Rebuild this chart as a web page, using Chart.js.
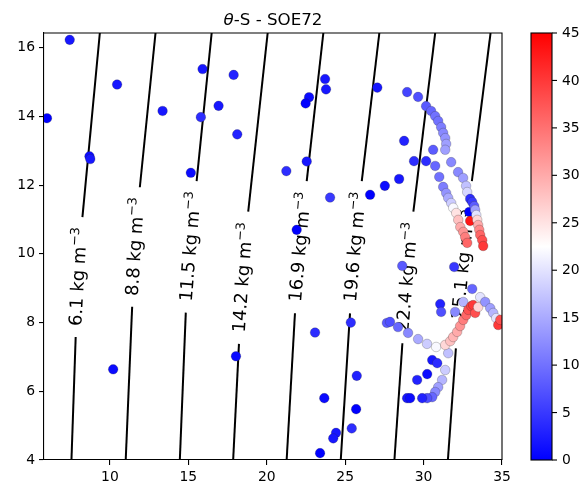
<!DOCTYPE html>
<html>
<head>
<meta charset="utf-8">
<script src="https://cdn.jsdelivr.net/npm/chart.js@4.4.1/dist/chart.umd.min.js"></script>
<style>
  html, body { margin: 0; padding: 0; background: #fff; }
  canvas { display: block; }
</style>
</head>
<body>
<canvas id="ts" width="585" height="488"></canvas>
<script>
const FONT = '"DejaVu Sans", "Liberation Sans", sans-serif';

// axis ranges and ticks
const xMin = 5.8, xMax = 35;
const yMin = 4, yMax = 16.43;
const xTicks = [10, 15, 20, 25, 30, 35];
const yTicks = [4, 6, 8, 10, 12, 14, 16];
const cMin = 0, cMax = 45;
const cTicks = [0, 5, 10, 15, 20, 25, 30, 35, 40, 45];

// samples: salinity (x), potential temperature (y), colour value
const salinity = [
  // scattered samples
  7.44, 5.99, 10.46, 8.70, 8.75, 13.36, 15.91, 15.80, 16.93, 17.89,
  18.12, 15.16, 21.25, 21.91, 23.72, 23.78, 22.70, 22.48, 22.55, 27.05,
  24.04, 26.59, 27.53, 28.44, 28.76, 29.39, 30.16, 10.21, 18.04, 23.08,
  25.36, 25.74, 23.67, 25.70, 25.42, 24.42, 24.24, 23.40,
  // upper profile, first leg
  28.95, 29.65, 30.16, 30.48, 30.74, 30.93, 31.12, 31.25, 31.38, 31.44,
  31.38, 31.76, 32.20, 32.52, 32.71, 32.78,
  // upper profile, second leg
  30.61, 30.74, 31.00, 31.25, 31.44, 31.57, 31.76, 31.89, 32.08, 32.21,
  32.34, 32.53, 32.65, 32.78,
  // upper profile, right leg
  32.91, 32.97, 32.97, 33.10, 33.23, 33.29, 33.36, 33.42, 33.48, 33.55,
  33.61, 33.74, 33.80,
  // lower cluster
  28.64, 31.95, 31.06, 31.12, 32.01, 32.53, 31.57,
  27.66, 27.86, 28.37, 29.01, 29.65, 30.22, 30.80, 31.38, 31.70, 31.89,
  32.14, 32.33, 32.53, 32.72, 32.85, 33.04, 33.16, 33.29, 33.48,
  33.10, 33.61, 33.93, 34.25, 34.44, 34.63, 34.76, 34.89,
  30.55, 30.87, 31.38, 31.18, 30.93, 30.74, 30.55, 30.23, 29.91, 30.23,
  29.59, 28.95, 29.14
];
const temperature = [
  16.23, 13.95, 14.93, 12.84, 12.76, 14.16, 15.38, 13.98, 14.31, 15.21,
  13.48, 12.36, 12.41, 10.70, 15.09, 14.79, 14.56, 14.38, 12.69, 14.84,
  11.64, 11.72, 11.98, 12.18, 13.29, 12.70, 12.70, 6.64, 7.02, 7.71,
  8.00, 6.45, 5.80, 5.48, 4.92, 4.79, 4.63, 4.20,
  14.71, 14.57, 14.30, 14.16, 14.01, 13.87, 13.69, 13.52, 13.37, 13.20,
  13.03, 12.67, 12.38, 12.21, 11.98, 11.80,
  13.03, 12.56, 12.24, 11.95, 11.77, 11.63, 11.48, 11.34, 11.19, 10.99,
  10.78, 10.64, 10.49, 10.32,
  11.22, 10.96, 11.60, 11.51, 11.39, 11.28, 11.13, 10.99, 10.84, 10.70,
  10.55, 10.40, 10.23,
  9.65, 9.62, 8.54, 8.31, 8.31, 8.60, 7.11,
  7.99, 8.02, 7.87, 7.70, 7.52, 7.38, 7.29, 7.35, 7.46, 7.58,
  7.73, 7.90, 8.08, 8.22, 8.37, 8.48, 8.51, 8.28, 8.45,
  8.98, 8.74, 8.60, 8.42, 8.28, 8.13, 7.93, 8.08,
  6.91, 6.82, 6.62, 6.33, 6.12, 5.98, 5.83, 5.80, 5.80, 6.50,
  6.33, 5.80, 5.80
];
const colourValue = [
  2, 0, 2, 1, 2, 2, 2, 4, 2, 3,
  3, 1, 4, 0, 2, 2, 1, 0, 2, 2,
  5, 0, 1, 2, 3, 4, 4, 1, 1, 4,
  4, 3, 1, 0, 4, 2, 2, 0,
  6, 7, 8, 9, 10, 10, 11, 12, 13, 14,
  14, 12, 12, 14, 17, 19,
  8, 9, 10, 11, 13, 15, 18, 22, 25, 28,
  30, 32, 34, 36,
  0, 43, 4, 5, 8, 14, 20, 26, 30, 33,
  36, 38, 40,
  8, 5, 3, 7, 12, 16, 17,
  8, 7, 9, 12, 15, 18, 22, 26, 28, 29,
  30, 32, 34, 36, 38, 39, 40, 38, 26,
  9, 20, 13, 14, 16, 20, 40, 38,
  2, 4, 18, 16, 14, 12, 9, 7, 3, 1,
  3, 2, 1
];

// isopycnals (kg m-3): salinity at the bottom, either side of the label, and at the top
const isoLevels = [6.1, 8.8, 11.5, 14.2, 16.9, 19.6, 22.4, 25.1];
const isoSaltBottom = [7.55, 11.01, 14.46, 17.86, 21.27, 24.72, 28.14, 31.55];
const isoSaltLow = [7.82, 11.42, 14.84, 18.23, 21.80, 25.31, 28.65, 32.06];
const isoTempLow = [7.58, 8.46, 8.29, 7.38, 8.27, 8.27, 7.40, 7.25];
const isoSaltHigh = [8.25, 11.91, 15.53, 18.82, 22.55, 26.06, 29.35, 33.08];
const isoTempHigh = [11.07, 11.94, 12.12, 11.23, 12.12, 12.12, 11.23, 12.12];
const isoSaltTop = [9.36, 12.91, 16.49, 20.06, 23.61, 27.18, 30.74, 34.27];

// matplotlib 'bwr'
function bwr(v) {
  const t = Math.max(0, Math.min(1, (v - cMin) / (cMax - cMin)));
  if (t < 0.5) {
    const c = Math.round(510 * t);
    return `rgb(${c},${c},255)`;
  }
  const c = Math.round(510 * (1 - t));
  return `rgb(255,${c},${c})`;
}

const points = {
  label: 'samples',
  data: salinity.map((s, i) => ({ x: s, y: temperature[i] })),
  backgroundColor: colourValue.map(bwr),
  borderColor: 'rgba(40,40,40,0.35)',
  borderWidth: 0.7,
  pointRadius: 4.8,
  showLine: false,
  clip: 0,
  order: 1
};

const isoSets = [];
isoLevels.forEach((level, i) => {
  const line = { showLine: true, pointRadius: 0, borderColor: '#000', borderWidth: 2, clip: 0, order: 2 };
  isoSets.push({ ...line, label: level + ' low', data: [
    { x: isoSaltBottom[i], y: yMin }, { x: isoSaltLow[i], y: isoTempLow[i] }] });
  isoSets.push({ ...line, label: level + ' high', data: [
    { x: isoSaltHigh[i], y: isoTempHigh[i] }, { x: isoSaltTop[i], y: yMax }] });
});

// contour labels, drawn just before the samples so points sit on top
const isoLabels = {
  id: 'isoLabels',
  beforeDatasetDraw(chart, args) {
    if (args.index !== 0) return;
    const { ctx, scales: { x, y } } = chart;
    const big = '18px ' + FONT, small = '12.6px ' + FONT;
    isoLevels.forEach((level, i) => {
      const x0 = x.getPixelForValue(isoSaltLow[i]), y0 = y.getPixelForValue(isoTempLow[i]);
      const x1 = x.getPixelForValue(isoSaltHigh[i]), y1 = y.getPixelForValue(isoTempHigh[i]);
      const main = level.toFixed(1) + ' kg m', sup = '\u22123';
      ctx.save();
      ctx.font = big;
      const wMain = ctx.measureText(main).width;
      ctx.font = small;
      const w = wMain + ctx.measureText(sup).width;
      ctx.translate((x0 + x1) / 2, (y0 + y1) / 2);
      ctx.rotate(Math.atan2(y1 - y0, x1 - x0));
      ctx.fillStyle = '#000';
      ctx.textBaseline = 'alphabetic';
      ctx.textAlign = 'left';
      ctx.font = big;
      ctx.fillText(main, -w / 2, 5);
      ctx.font = small;
      ctx.fillText(sup, -w / 2 + wMain + 0.5, -2.5);
      ctx.restore();
    });
  }
};

// top and right spines
const frame = {
  id: 'frame',
  afterDatasetsDraw(chart) {
    const { ctx, chartArea: a } = chart;
    ctx.save();
    ctx.strokeStyle = '#000';
    ctx.lineWidth = 1.1;
    ctx.beginPath();
    ctx.moveTo(a.left, a.top);
    ctx.lineTo(a.right, a.top);
    ctx.lineTo(a.right, a.bottom);
    ctx.stroke();
    ctx.restore();
  }
};

const colourBar = {
  id: 'colourBar',
  afterDraw(chart) {
    const { ctx, chartArea: a } = chart;
    const left = a.right + 29, width = 21, top = a.top, bottom = a.bottom;
    ctx.save();
    const g = ctx.createLinearGradient(0, bottom, 0, top);
    g.addColorStop(0, bwr(cMin));
    g.addColorStop(0.5, '#fff');
    g.addColorStop(1, bwr(cMax));
    ctx.fillStyle = g;
    ctx.fillRect(left, top, width, bottom - top);
    ctx.strokeStyle = '#000';
    ctx.lineWidth = 1.1;
    ctx.strokeRect(left, top, width, bottom - top);
    ctx.fillStyle = '#000';
    ctx.font = '13.9px ' + FONT;
    ctx.textAlign = 'left';
    ctx.textBaseline = 'middle';
    cTicks.forEach(v => {
      const py = bottom - (v - cMin) / (cMax - cMin) * (bottom - top);
      ctx.beginPath();
      ctx.moveTo(left + width, py);
      ctx.lineTo(left + width + 5, py);
      ctx.stroke();
      ctx.fillText(String(v), left + width + 10, py + 0.5);
    });
    ctx.restore();
  }
};

const title = {
  id: 'titleText',
  afterDraw(chart) {
    const { ctx, chartArea: a } = chart;
    const cx = (a.left + a.right) / 2, base = 25;
    const theta = '\u03b8', rest = '-S - SOE72';
    ctx.save();
    ctx.fillStyle = '#000';
    ctx.textBaseline = 'alphabetic';
    ctx.font = 'italic 16.7px ' + FONT;
    const w1 = ctx.measureText(theta).width;
    ctx.font = '16.7px ' + FONT;
    const w2 = ctx.measureText(rest).width;
    const start = cx - (w1 + w2) / 2;
    ctx.font = 'italic 16.7px ' + FONT;
    ctx.fillText(theta, start, base);
    ctx.font = '16.7px ' + FONT;
    ctx.fillText(rest, start + w1, base);
    ctx.restore();
  }
};

const axisStyle = {
  type: 'linear',
  grid: { drawOnChartArea: false, drawTicks: true, tickLength: 5, color: '#000', lineWidth: 1.1 },
  border: { display: true, color: '#000', width: 1.1 },
  ticks: { color: '#000', font: { family: FONT, size: 13.9 }, padding: 4, maxRotation: 0 }
};

new Chart(document.getElementById('ts'), {
  type: 'scatter',
  data: { datasets: [points, ...isoSets] },
  options: {
    responsive: false,
    animation: false,
    devicePixelRatio: 1,
    layout: { padding: { left: 0, top: 33, right: 83, bottom: 0 } },
    plugins: { legend: { display: false }, tooltip: { enabled: false }, title: { display: false } },
    scales: {
      x: {
        ...axisStyle, min: xMin, max: xMax,
        afterBuildTicks: s => { s.ticks = xTicks.map(v => ({ value: v })); },
        afterFit: s => { s.height = 28; }
      },
      y: {
        ...axisStyle, min: yMin, max: yMax,
        afterBuildTicks: s => { s.ticks = yTicks.map(v => ({ value: v })); },
        afterFit: s => { s.width = 44; }
      }
    }
  },
  plugins: [isoLabels, frame, colourBar, title]
});
</script>
</body>
</html>
